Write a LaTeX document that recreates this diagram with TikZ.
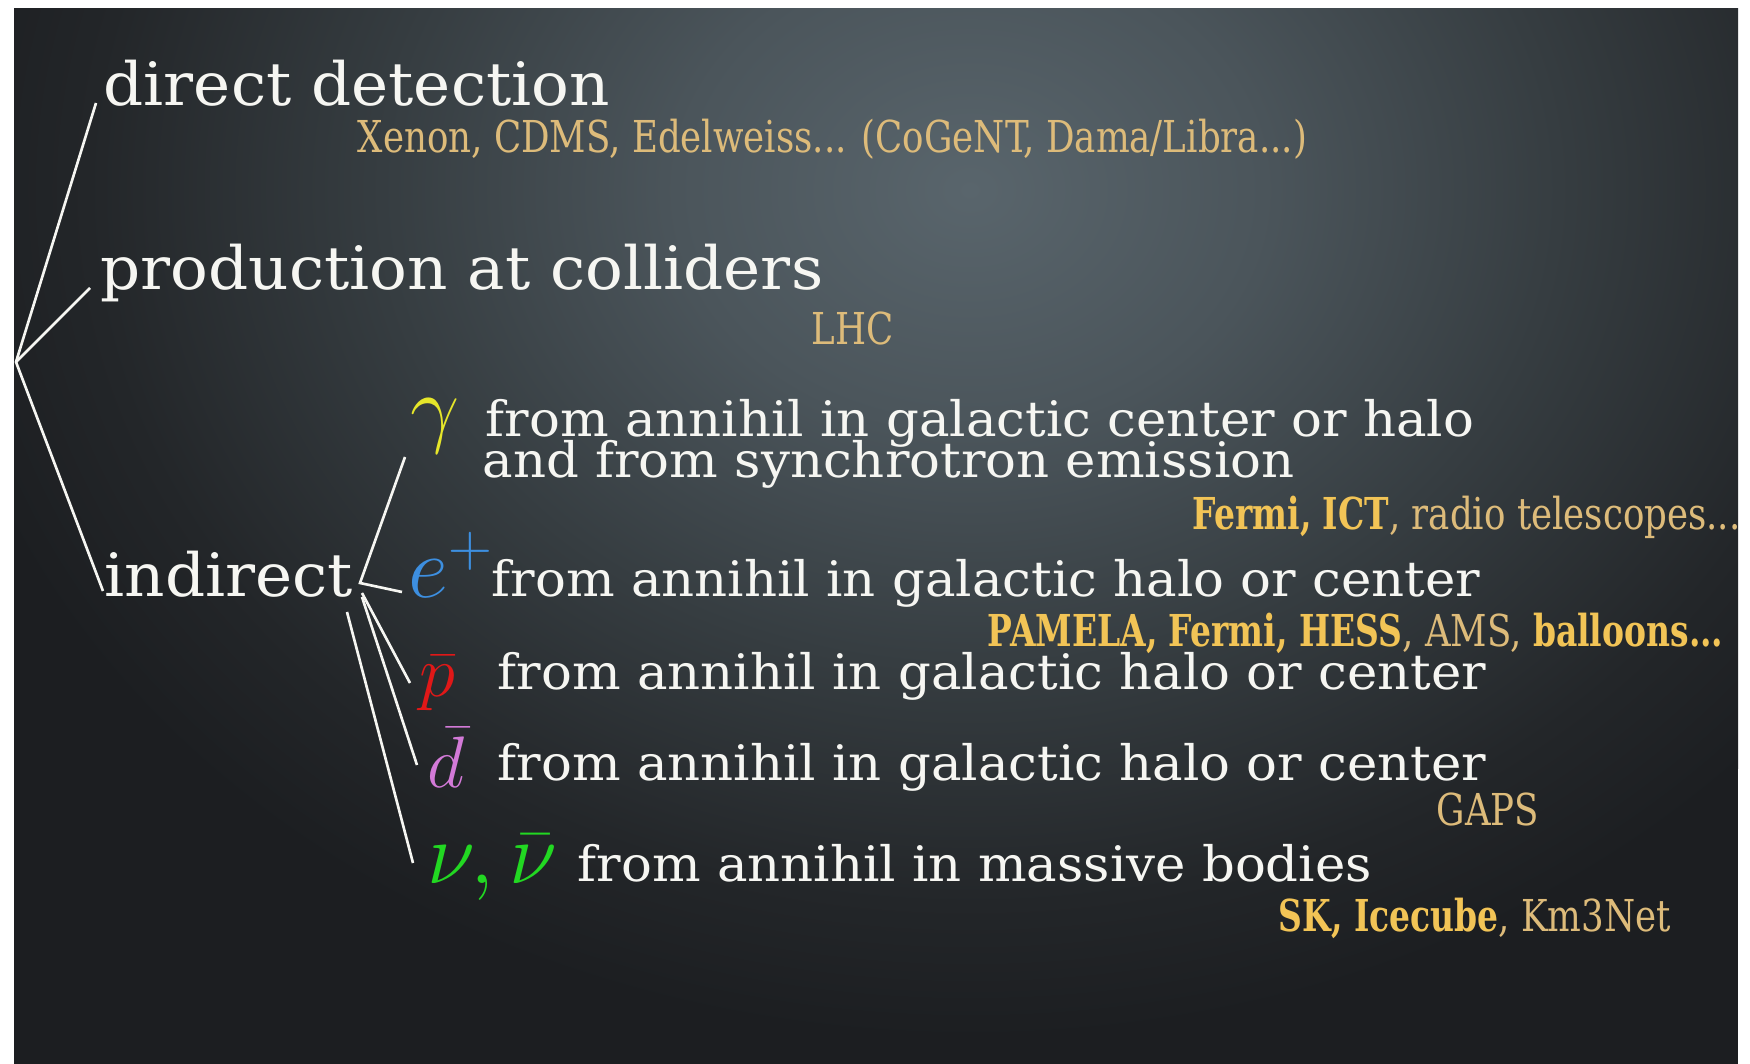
\documentclass[tikz,border=0pt]{standalone}
\usepackage{fontspec}
\setmainfont{DejaVu Serif}[FakeStretch=1.05]
\newfontfamily\condfont{DejaVu Serif}[FakeStretch=0.81]
\newfontfamily\condboldfont{DejaVu Serif Bold}[FakeStretch=0.75]
\definecolor{bgdark}{HTML}{1C1E21}
\definecolor{glowA}{HTML}{59656C}
\definecolor{glowB}{HTML}{4B555B}
\definecolor{glowC}{HTML}{363D41}
\definecolor{glowD}{HTML}{232629}
\definecolor{txtwhite}{HTML}{F6F6F2}
\definecolor{goldlt}{HTML}{DDBB7A}
\definecolor{goldbd}{HTML}{F2C456}
\definecolor{gamyel}{HTML}{E6E62A}
\definecolor{eblue}{HTML}{3D8FE0}
\definecolor{pred}{HTML}{E01818}
\definecolor{dmag}{HTML}{D37AD8}
\definecolor{nugreen}{HTML}{22D822}
\pgfdeclareradialshading{bgglow}{\pgfpoint{0bp}{0bp}}{color(0bp)=(glowA); color(7bp)=(glowB); color(14bp)=(glowC); color(21bp)=(glowD); color(25bp)=(bgdark); color(50bp)=(bgdark)}
\newcommand{\goldbf}[1]{{\condboldfont\color{goldbd}#1}}
\begin{document}
\begin{tikzpicture}[x=0.01cm,y=-0.01cm,
  maintext/.style={anchor=base west, inner sep=0pt, text=txtwhite, font=\fontsize{17}{20}\selectfont},
  linetext/.style={anchor=base west, inner sep=0pt, text=txtwhite, font=\fontsize{13.9}{16}\selectfont},
  subtext/.style={anchor=base west, inner sep=0pt, text=goldlt, font=\condfont\fontsize{12.5}{15}\selectfont},
  symtext/.style={anchor=base west, inner sep=0pt, font=\fontsize{23}{27}\selectfont},
  branch/.style={draw=txtwhite, line width=0.75pt}]
\useasboundingbox (0,0) rectangle (1750,1064);
\fill[white] (0,0) rectangle (1750,1064);
\begin{scope}
\clip (14,9) rectangle (1738,1064);
\fill[bgdark] (14,9) rectangle (1738,1064);
\shade[shading=bgglow] (970,190) ellipse (1050 and 850);
\end{scope}

% main categories
\node[maintext] (direct) at (103,106) {direct detection};
\node[subtext] (xenon) at (357,153) {Xenon, CDMS, Edelweiss... (CoGeNT, Dama/Libra...)};
\node[maintext] (prod) at (100,290) {production at colliders};
\node[subtext] (lhc) at (811,345) {LHC};
\node[maintext] (indirect) at (104,597) {indirect};

% gamma
\node[symtext, text=gamyel] (gam) at (410,437) {$\gamma$};
\node[linetext] (gamtxt) at (485,437) {from annihil in galactic center or halo};
\node[linetext] (gamtxtb) at (482,478) {and from synchrotron emission};
\node[subtext] (gamexp) at (1192,530) {\goldbf{Fermi, ICT}, radio telescopes...};

% positron
\node[symtext, text=eblue] (pos) at (408,598) {$e^{+}$};
\node[linetext] (postxt) at (491,597) {from annihil in galactic halo or center};
\node[subtext] (posexp) at (987,647) {\goldbf{PAMELA, Fermi, HESS}, AMS, \goldbf{balloons...}};

% antiproton
\node[symtext, text=pred, font=\fontsize{22}{26}\selectfont] (pbar) at (419,697) {$\bar{p}$};
\node[linetext] (pbartxt) at (497,690) {from annihil in galactic halo or center};

% antideuteron
\node[symtext, text=dmag, font=\fontsize{22.5}{26}\selectfont] (dbar) at (427,788) {$\bar{d}$};
\node[linetext] (dbartxt) at (497,781) {from annihil in galactic halo or center};
\node[subtext] (gaps) at (1436,826) {GAPS};

% neutrinos
\node[symtext, text=nugreen, font=\fontsize{25.5}{30}\selectfont] (nu) at (427,884) {$\nu,\bar{\nu}$};
\node[linetext] (nutxt) at (577,882) {from annihil in massive bodies};
\node[subtext] (nuexp) at (1278,932) {\goldbf{SK, Icecube}, Km3Net};

% branch coordinates
\coordinate (root) at (16,362);
\coordinate (dEnd) at (96,103);
\coordinate (pEnd) at (90,288);
\coordinate (iEnd) at (103,591);
\coordinate (junc) at (360,583);
\coordinate (gEnd) at (405,457);
\coordinate (eEnd) at (402,592);
\coordinate (pbS) at (362,593);
\coordinate (pbE) at (410,683);
\coordinate (dbS) at (362,597);
\coordinate (dbE) at (417,765);
\coordinate (nuS) at (347,612);
\coordinate (nuE) at (413,863);

\draw[branch] (dEnd) -- (root) -- (iEnd);
\draw[branch] (root) -- (pEnd);
\draw[branch] (gEnd) -- (junc) -- (eEnd);
\draw[branch] (pbS) -- (pbE);
\draw[branch] (dbS) -- (dbE);
\draw[branch] (nuS) -- (nuE);
\end{tikzpicture}
\end{document}
